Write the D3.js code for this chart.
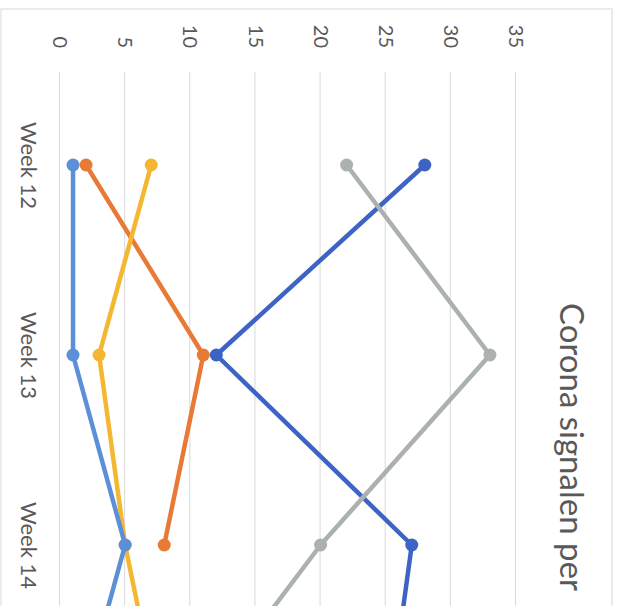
<!DOCTYPE html>
<html>
<head>
<meta charset="utf-8">
<script src="https://cdn.jsdelivr.net/npm/d3@7"></script>
<style>
  body { margin: 0; background: #fff; }
  svg { display: block; }
  text { font-family: Lato, "Open Sans", sans-serif; fill: #595959; }
</style>
</head>
<body>
<script>
    // chart data (the scan is turned a quarter turn, so is the drawing)
    var weeks = ["Week 12", "Week 13", "Week 14", "Week 15"];
    var tickValues = [0, 5, 10, 15, 20, 25, 30, 35];
    var serie1 = [28, 12, 27, 25];
    var serie2 = [2, 11, 8, null];
    var serie3 = [22, 33, 20, 9];
    var serie4 = [7, 3, 5, 8];
    var serie5 = [1, 1, 5, 1];

    var series = [
        {name: "Serie 1", values: serie1, color: "#3d63c4"},
        {name: "Serie 2", values: serie2, color: "#e97a36"},
        {name: "Serie 3", values: serie3, color: "#abb0b1"},
        {name: "Serie 4", values: serie4, color: "#f4b731"},
        {name: "Serie 5", values: serie5, color: "#5b8fd8"}
    ];

    var W = 621, H = 606;

    var svg = d3.select("body").append("svg")
        .attr("width", W)
        .attr("height", H);

    // chart border
    svg.append("rect")
        .attr("x", 1).attr("y", 9)
        .attr("width", 611).attr("height", 700)
        .attr("fill", "none")
        .attr("stroke", "#dedede")
        .attr("stroke-width", 1.2);

    // everything is drawn upright, then rotated 90deg clockwise
    var g = svg.append("g")
        .attr("transform", "translate(" + W + ",0) rotate(90)");

    // Set the ranges
    var xScale = d3.scalePoint().domain(weeks).range([165, 735]);
    var yScale = d3.scaleLinear().domain([0, 35]).range([W - 60, W - 516]);

    // gridlines + value labels
    g.append("g")
        .attr("class", "y axis")
        .attr("transform", "translate(72,0)")
        .call(d3.axisLeft(yScale).tickValues(tickValues).tickSize(-800).tickPadding(24))
        .call(function(a) {
            a.select(".domain").remove();
            a.selectAll(".tick line").attr("stroke", "#d9d9d9").attr("stroke-width", 1);
            a.selectAll(".tick text").style("font-size", "20px").attr("fill", "#595959");
        });

    // category labels (only the ones that fall inside the page)
    var shownWeeks = weeks.filter(function(w) { return xScale(w) < H - 40; });
    g.append("g")
        .attr("class", "x axis")
        .attr("transform", "translate(0," + yScale(0) + ")")
        .call(d3.axisBottom(xScale).tickValues(shownWeeks).tickSize(0).tickPadding(23))
        .call(function(a) {
            a.select(".domain").remove();
            a.selectAll(".tick text").style("font-size", "22px").attr("fill", "#595959");
        });

    // title
    g.append("text")
        .attr("x", 303)
        .attr("y", W - 560)
        .style("font-size", "33px")
        .text("Corona signalen per");

    // lines and markers
    series.forEach(function(s) {
        var pts = s.values.map(function(v, i) { return {week: weeks[i], value: v}; })
            .filter(function(d) { return d.value !== null; });

        var line = d3.line()
            .x(function(d) { return xScale(d.week); })
            .y(function(d) { return yScale(d.value); });

        g.append("path")
            .datum(pts)
            .attr("fill", "none")
            .attr("stroke", s.color)
            .attr("stroke-width", 4.5)
            .attr("stroke-linejoin", "round")
            .attr("stroke-linecap", "round")
            .attr("d", line);

        g.selectAll(null)
            .data(pts)
            .enter().append("circle")
            .attr("cx", function(d) { return xScale(d.week); })
            .attr("cy", function(d) { return yScale(d.value); })
            .attr("r", 6.5)
            .attr("fill", s.color);
    });
</script>
</body>
</html>
